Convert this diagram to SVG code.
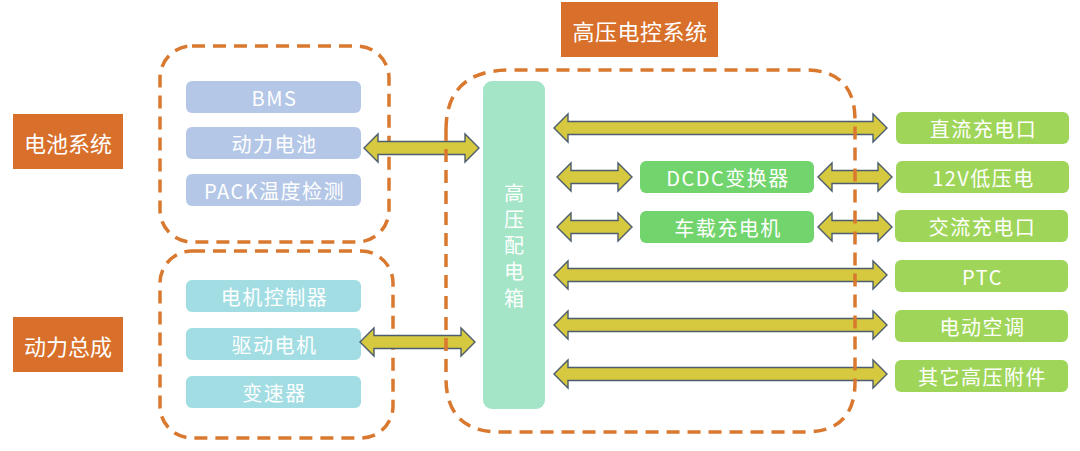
<svg xmlns="http://www.w3.org/2000/svg" width="1080" height="451" viewBox="0 0 1080 451">
<defs>
<style>
.t{font-family:"Noto Sans CJK SC","Liberation Sans",sans-serif;fill:#ffffff;text-anchor:middle;dominant-baseline:central}
.b{font-size:20px;letter-spacing:1.5px}
.title{fill:#D86F2A}
.dash{fill:none;stroke:#D9782F;stroke-width:3.5;stroke-dasharray:13 8}
.blue{fill:#B4C7E7}
.cyan{fill:#A1DDE2}
.mint{fill:#A3E5C6}
.lg{fill:#9FD65A}
.mg{fill:#72D46C}
.arr{fill:#D6C93F;stroke:#4B5D6E;stroke-width:1.4;stroke-linejoin:miter}
</style>
</defs>
<rect width="1080" height="451" fill="#ffffff"/>

<g id="title-hv">
<rect class="title" x="561" y="2" width="157" height="55"/>
<text class="t" x="640" y="30" font-size="22" letter-spacing="0.5">高压电控系统</text>
</g>
<g id="title-battery">
<rect class="title" x="13" y="114" width="110" height="55"/>
<text class="t" x="68" y="142" font-size="22">电池系统</text>
</g>
<g id="title-power">
<rect class="title" x="13" y="317" width="110" height="55"/>
<text class="t" x="68" y="345" font-size="22">动力总成</text>
</g>

<g id="battery-group">
<rect class="dash" x="160" y="46" width="229" height="196" rx="32"/>
</g>
<g id="power-group">
<rect class="dash" x="160" y="251" width="233" height="187" rx="32"/>
</g>

<g id="bms"><rect class="blue" x="186" y="81" width="175" height="32" rx="6"/><text class="t b" x="274.5" y="97.5">BMS</text></g>
<g id="battery"><rect class="blue" x="186" y="127" width="175" height="32" rx="6"/><text class="t b" x="274.5" y="143.5">动力电池</text></g>
<g id="pack"><rect class="blue" x="186" y="174" width="175" height="32" rx="6"/><text class="t b" x="274.5" y="190.5">PACK温度检测</text></g>

<g id="motor-ctrl"><rect class="cyan" x="186" y="280" width="175" height="32" rx="6"/><text class="t b" x="274.5" y="296.5">电机控制器</text></g>
<g id="motor"><rect class="cyan" x="186" y="328" width="175" height="32" rx="6"/><text class="t b" x="274.5" y="344.5">驱动电机</text></g>
<g id="gearbox"><rect class="cyan" x="186" y="376" width="175" height="32" rx="6"/><text class="t b" x="274.5" y="392.5">变速器</text></g>

<g id="pdu">
<rect class="mint" x="483" y="81" width="62" height="328" rx="9"/>
<text x="514" y="183" font-size="20" writing-mode="vertical-rl" letter-spacing="6.3" font-family="'Noto Sans CJK SC',sans-serif" fill="#ffffff">高压配电箱</text>
</g>

<g id="dcdc"><rect class="mg" x="640" y="161" width="174" height="32" rx="6"/><text class="t b" x="728" y="177.5">DCDC变换器</text></g>
<g id="obc"><rect class="mg" x="640" y="211" width="174" height="32" rx="6"/><text class="t b" x="728" y="227.5">车载充电机</text></g>

<g id="dc-port"><rect class="lg" x="896" y="112" width="173" height="32" rx="6"/><text class="t b" x="983.5" y="128.5">直流充电口</text></g>
<g id="lv12"><rect class="lg" x="896" y="161" width="173" height="32" rx="6"/><text class="t b" x="983.5" y="177.5">12V低压电</text></g>
<g id="ac-port"><rect class="lg" x="895" y="210" width="173" height="32" rx="6"/><text class="t b" x="982.5" y="226.5">交流充电口</text></g>
<g id="ptc"><rect class="lg" x="895" y="260" width="173" height="32" rx="6"/><text class="t b" x="982.5" y="276.5">PTC</text></g>
<g id="ac"><rect class="lg" x="895" y="310" width="173" height="32" rx="6"/><text class="t b" x="982.5" y="326.5">电动空调</text></g>
<g id="other"><rect class="lg" x="895" y="360" width="173" height="32" rx="6"/><text class="t b" x="982.5" y="376.5">其它高压附件</text></g>

<g id="connectors">
<path class="arr" d="M364,148 L378,134 L378,141.5 L465,141.5 L465,134 L479,148 L465,162 L465,154.5 L378,154.5 L378,162 Z"/>
<path class="arr" d="M360,342 L374,328 L374,335.5 L461,335.5 L461,328 L475,342 L461,356 L461,348.5 L374,348.5 L374,356 Z"/>
<path class="arr" d="M554,128 L568,114 L568,121.5 L873,121.5 L873,114 L887,128 L873,142 L873,134.5 L568,134.5 L568,142 Z"/>
<path class="arr" d="M557,177 L571,163 L571,170.5 L618,170.5 L618,163 L632,177 L618,191 L618,183.5 L571,183.5 L571,191 Z"/>
<path class="arr" d="M818,177 L832,163 L832,170.5 L878,170.5 L878,163 L892,177 L878,191 L878,183.5 L832,183.5 L832,191 Z"/>
<path class="arr" d="M557,227 L571,213 L571,220.5 L618,220.5 L618,213 L632,227 L618,241 L618,233.5 L571,233.5 L571,241 Z"/>
<path class="arr" d="M818,227 L832,213 L832,220.5 L878,220.5 L878,213 L892,227 L878,241 L878,233.5 L832,233.5 L832,241 Z"/>
<path class="arr" d="M554,275 L568,261 L568,268.5 L873,268.5 L873,261 L887,275 L873,289 L873,281.5 L568,281.5 L568,289 Z"/>
<path class="arr" d="M554,325 L568,311 L568,318.5 L873,318.5 L873,311 L887,325 L873,339 L873,331.5 L568,331.5 L568,339 Z"/>
<path class="arr" d="M554,374 L568,360 L568,367.5 L873,367.5 L873,360 L887,374 L873,388 L873,380.5 L568,380.5 L568,388 Z"/>
</g>

<g id="hv-group">
<path class="dash" d="M446,130 Q446,70 510,70 L805,70 Q855,70 855,120 L855,382 Q855,432 805,432 L500,432 Q446,432 446,378 Z"/>
</g>
</svg>
